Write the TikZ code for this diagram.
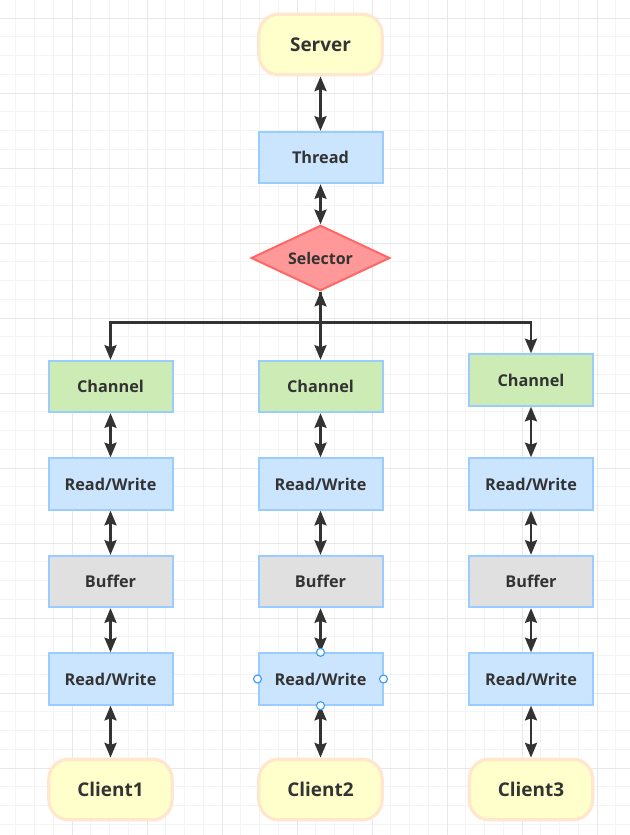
\documentclass[tikz,border=0pt]{standalone}
\usepackage{fontspec}
\setmainfont{Open Sans}
\usetikzlibrary{arrows.meta,shapes.geometric}
\definecolor{gridminor}{HTML}{F4F4F4}
\definecolor{gridmajor}{HTML}{E8E8E8}
\definecolor{txt}{HTML}{333333}
\definecolor{bluefill}{HTML}{CCE5FF}
\definecolor{blueline}{HTML}{99CCFF}
\definecolor{greenfill}{HTML}{CDEBB5}
\definecolor{grayfill}{HTML}{E0E0E0}
\definecolor{yelfill}{HTML}{FFFFCC}
\definecolor{yelline}{HTML}{FFE6CC}
\definecolor{redfill}{HTML}{FF9999}
\definecolor{redline}{HTML}{FF6666}
\definecolor{handle}{HTML}{3399FF}
\tikzset{
  boxbase/.style={rectangle, draw=blueline, line width=1.5pt, minimum width=93pt, minimum height=38.5pt, inner sep=0pt, text=txt, font=\bfseries\fontsize{12.2}{14}\selectfont},
  bluebox/.style={boxbase, fill=bluefill},
  greenbox/.style={boxbase, fill=greenfill},
  graybox/.style={boxbase, fill=grayfill},
  termbox/.style={rectangle, rounded corners=15pt, draw=yelline, fill=yelfill, line width=2.4pt, minimum width=92.5pt, minimum height=45.5pt, inner sep=0pt, text=txt, font=\bfseries\fontsize{14.2}{16}\selectfont},
  selbox/.style={diamond, shape aspect=2.12, draw=redline, fill=redfill, line width=1.5pt, minimum width=104pt, minimum height=49pt, inner sep=0pt, text=txt, font=\bfseries\fontsize{12}{14}\selectfont},
  conn/.style={draw=txt, line width=1.8pt},
  biarrow/.style={conn, {Stealth[length=11pt,width=9pt,inset=1.5pt]}-{Stealth[length=11pt,width=9pt,inset=1.5pt]}},
  onearrow/.style={conn, -{Stealth[length=11pt,width=9pt,inset=1.5pt]}},
  handlept/.style={circle, draw=handle, fill=white, line width=0.8pt, minimum size=6pt, inner sep=0pt}
}
\begin{document}
\begin{tikzpicture}[x=0.75pt,y=-0.75pt]
\useasboundingbox (0,0) rectangle (630,835);
\fill[white] (0,0) rectangle (630,835);
% grid
\foreach \i in {0,...,33} {\draw[gridminor, line width=0.75pt] ({15.75+18.75*\i},0) -- ({15.75+18.75*\i},835);}
\foreach \i in {0,...,44} {\draw[gridminor, line width=0.75pt] (0,{18+18.75*\i}) -- (630,{18+18.75*\i});}
\foreach \i in {0,...,7} {\draw[gridmajor, line width=0.75pt] ({72+75*\i},0) -- ({72+75*\i},835);}
\foreach \i in {0,...,10} {\draw[gridmajor, line width=0.75pt] (0,{18+75*\i}) -- (630,{18+75*\i});}

% nodes
\node[termbox] (server) at (320.5,44.5) {Server};
\node[bluebox] (thread) at (320.5,157.5) {Thread};
\node[selbox] (selector) at (320.5,258) {Selector};

\node[greenbox] (ch1) at (110.5,386.5) {Channel};
\node[greenbox] (ch2) at (320.5,386.5) {Channel};
\node[greenbox] (ch3) at (531,380) {Channel};

\node[bluebox] (rwa1) at (110.5,484) {Read/Write};
\node[bluebox] (rwa2) at (320.5,484) {Read/Write};
\node[bluebox] (rwa3) at (531,484) {Read/Write};

\node[graybox] (buf1) at (110.5,581.5) {Buffer};
\node[graybox] (buf2) at (320.5,581.5) {Buffer};
\node[graybox] (buf3) at (531,581.5) {Buffer};

\node[bluebox] (rwb1) at (110.5,679) {Read/Write};
\node[bluebox] (rwb2) at (320.5,679) {Read/Write};
\node[bluebox] (rwb3) at (531,679) {Read/Write};

\node[termbox] (cl1) at (110.5,789.5) {Client1};
\node[termbox] (cl2) at (320.5,789.5) {Client2};
\node[termbox] (cl3) at (531,789.5) {Client3};

% connectors
\draw[biarrow] (server) -- (thread);
\draw[biarrow] (thread) -- (selector);
\draw[onearrow] (selector.south) -- ++(0,31) -| (ch1);
\draw[onearrow] (selector.south) -- ++(0,31) -| (ch3);
\draw[biarrow] (selector) -- (ch2);
\foreach \c in {1,2,3} {
  \draw[biarrow] (ch\c) -- (rwa\c);
  \draw[biarrow] (rwa\c) -- (buf\c);
  \draw[biarrow] (buf\c) -- (rwb\c);
  \draw[biarrow] (rwb\c) -- (cl\c);
}

% selection handles
\node[handlept] at (rwb2.north) {};
\node[handlept] at (rwb2.south) {};
\node[handlept] at (rwb2.west) {};
\node[handlept] at (rwb2.east) {};
\end{tikzpicture}
\end{document}
